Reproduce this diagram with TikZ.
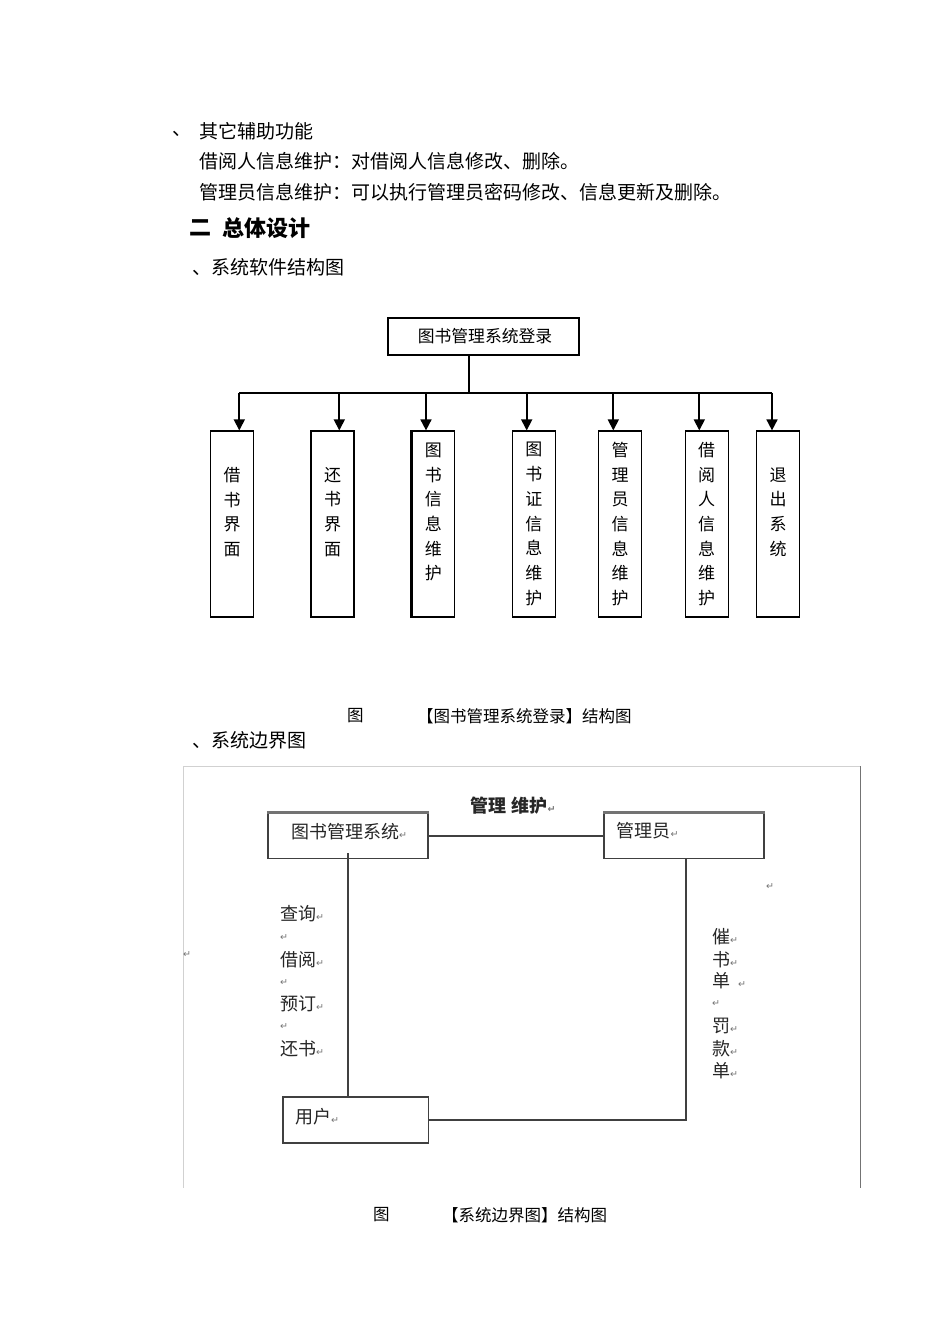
\documentclass[tikz,border=0pt]{standalone}
\usepackage{fontspec}
\usetikzlibrary{arrows.meta}
\newfontfamily\cjk{Noto Sans CJK SC}
\newfontfamily\sym{DejaVu Sans}
\newcommand\retm{{\sym\fontsize{9.5}{9.5}\selectfont\textcolor{black!55}{↵}}}
\tikzset{
  txt/.style={font=\cjk\fontsize{19}{19}\selectfont, anchor=west, inner sep=0pt},
  head/.style={font=\cjk\bfseries\fontsize{22}{22}\selectfont, anchor=west, inner sep=0pt},
  captxt/.style={font=\cjk\fontsize{16.5}{16.5}\selectfont, anchor=west, inner sep=0pt},
  lab/.style={font=\cjk\fontsize{18}{18}\selectfont, anchor=west, inner sep=0pt, text=black!85},
  topbox/.style={draw, line width=1.3pt, minimum width=191pt, minimum height=37pt, inner sep=0pt, font=\cjk\fontsize{16.8}{16.8}\selectfont},
  vbox/.style={draw, line width=1.2pt, minimum width=43pt, minimum height=186pt, inner sep=0pt},
  vlab/.style={font=\cjk\fontsize{17}{24.7}\selectfont, align=center, inner sep=0pt},
  arr/.style={-{Triangle[length=11pt,width=11pt]}, line width=1.7pt},
  bus/.style={line width=1.7pt},
  sbox/.style={draw=black!75, line width=1.6pt, minimum width=160pt, minimum height=45pt, inner sep=0pt},
  sline/.style={draw=black!75, line width=1.6pt},
}
\begin{document}
\begin{tikzpicture}[x=1pt,y=-1pt]
\useasboundingbox (0,0) rectangle (950,1344);
\fill[white] (0,0) rectangle (950,1344);

% ---- top text ----
\node[txt] (d1) at (172,134) {、};
\node[txt] (t1) at (199,131) {其它辅助功能};
\node[txt] (t2) at (199,161) {借阅人信息维护：对借阅人信息修改、删除。};
\node[txt] (t3) at (199,192) {管理员信息维护：可以执行管理员密码修改、信息更新及删除。};
\node[head] (h1) at (189,228) {二};
\node[head] (h2) at (222,228) {总体设计};
\node[txt] (t4) at (192,267) {、系统软件结构图};

% ---- diagram 1 ----
\node[topbox] (top) at (483.5,336.5) {\hspace{3pt}图书管理系统登录};
\coordinate (busc) at (469.3,392.7);

\node[vbox] (b1) at (232,524) {};
\node[vbox] (b2) at (332.5,524) {};
\node[vbox] (b3) at (433.3,524) {};
\node[vbox] (b4) at (533.8,524) {};
\node[vbox] (b5) at (620,524) {};
\node[vbox] (b6) at (706.6,524) {};
\node[vbox] (b7) at (778,524) {};
\draw[line width=2.6pt] (b3.north west) -- (b3.south west);

\node[vlab] (l1) at (232,512) {借\\书\\界\\面};
\node[vlab] (l2) at (332.5,512) {还\\书\\界\\面};
\node[vlab] (l3) at (433.3,512) {图\\书\\信\\息\\维\\护};
\node[vlab] (l4) at (533.8,524) {图\\书\\证\\信\\息\\维\\护};
\node[vlab] (l5) at (620,524) {管\\理\\员\\信\\息\\维\\护};
\node[vlab] (l6) at (706.6,524) {借\\阅\\人\\信\\息\\维\\护};
\node[vlab] (l7) at (778,512) {退\\出\\系\\统};

\draw[bus] (top.south -| busc) -- (busc);
\draw[bus] ([xshift=7.3pt]b1.north |- busc) -- ([xshift=-6pt]b7.north |- busc);
\draw[arr] ([xshift=7.3pt]b1.north |- busc) -- ([xshift=7.3pt]b1.north);
\draw[arr] ([xshift=6.8pt]b2.north |- busc) -- ([xshift=6.8pt]b2.north);
\draw[arr] ([xshift=-7.3pt]b3.north |- busc) -- ([xshift=-7.3pt]b3.north);
\draw[arr] ([xshift=-7.1pt]b4.north |- busc) -- ([xshift=-7.1pt]b4.north);
\draw[arr] ([xshift=-6.7pt]b5.north |- busc) -- ([xshift=-6.7pt]b5.north);
\draw[arr] ([xshift=-7.3pt]b6.north |- busc) -- ([xshift=-7.3pt]b6.north);
\draw[arr] ([xshift=-6pt]b7.north |- busc) -- ([xshift=-6pt]b7.north);

\node[captxt] (c1a) at (347,716) {图};
\node[captxt] (c1b) at (417,716) {【图书管理系统登录】结构图};
\node[txt] (t5) at (192,740) {、系统边界图};

% ---- diagram 2 frame ----
\draw[black!18, line width=1pt] (183,766) -- (860,766);
\draw[black!18, line width=1pt] (183,766) -- (183,1188);
\draw[black!55, line width=1pt] (860,766) -- (860,1188);

\node[sbox] (sys) at (347.7,836) {};
\node[sbox] (adm) at (684.2,836) {};
\node[sbox, minimum width=145.6pt, minimum height=46pt] (usr) at (355.5,1120) {};
\draw[black!55, line width=3pt] (sys.north west) -- (sys.north east);
\draw[black!55, line width=3pt] (adm.north west) -- (adm.north east);

\node[lab] (sysl) at (291,831.5) {图书管理系统\retm};
\node[lab] (adml) at (616.5,830.5) {管理员\retm};
\node[lab] (usrl) at (295,1116.5) {用户\retm};

\draw[sline] (sys.east) -- (adm.west);
\draw[sline] ([yshift=6pt]sys.south) -- (sys.south |- usr.north);
\draw[sline] ([xshift=1.5pt]adm.south) |- (usr.east);

\node[lab, font=\cjk\bfseries\fontsize{18}{18}\selectfont] (mw) at (470.5,806) {管理\hspace{5pt}维护\retm};

\node[lab] (q1) at (280,914) {查询\retm};
\node[lab] (q2) at (280,938) {\retm};
\node[lab] (q3) at (280,960) {借阅\retm};
\node[lab] (q4) at (280,983) {\retm};
\node[lab] (q5) at (280,1004) {预订\retm};
\node[lab] (q6) at (280,1027) {\retm};
\node[lab] (q7) at (280,1049) {还书\retm};

\node[lab] (r1) at (712,937) {催\retm};
\node[lab] (r2) at (712,960) {书\retm};
\node[lab] (r3) at (712,981) {单\hspace{8pt}\retm};
\node[lab] (r4) at (712,1004) {\retm};
\node[lab] (r5) at (712,1026) {罚\retm};
\node[lab] (r6) at (712,1049) {款\retm};
\node[lab] (r7) at (712,1071) {单\retm};

\node[lab] (s1) at (766,887) {\retm};
\node[lab] (s2) at (183,955) {\retm};

\node[captxt] (c2a) at (373,1215) {图};
\node[captxt] (c2b) at (442,1215) {【系统边界图】结构图};
\end{tikzpicture}
\end{document}
